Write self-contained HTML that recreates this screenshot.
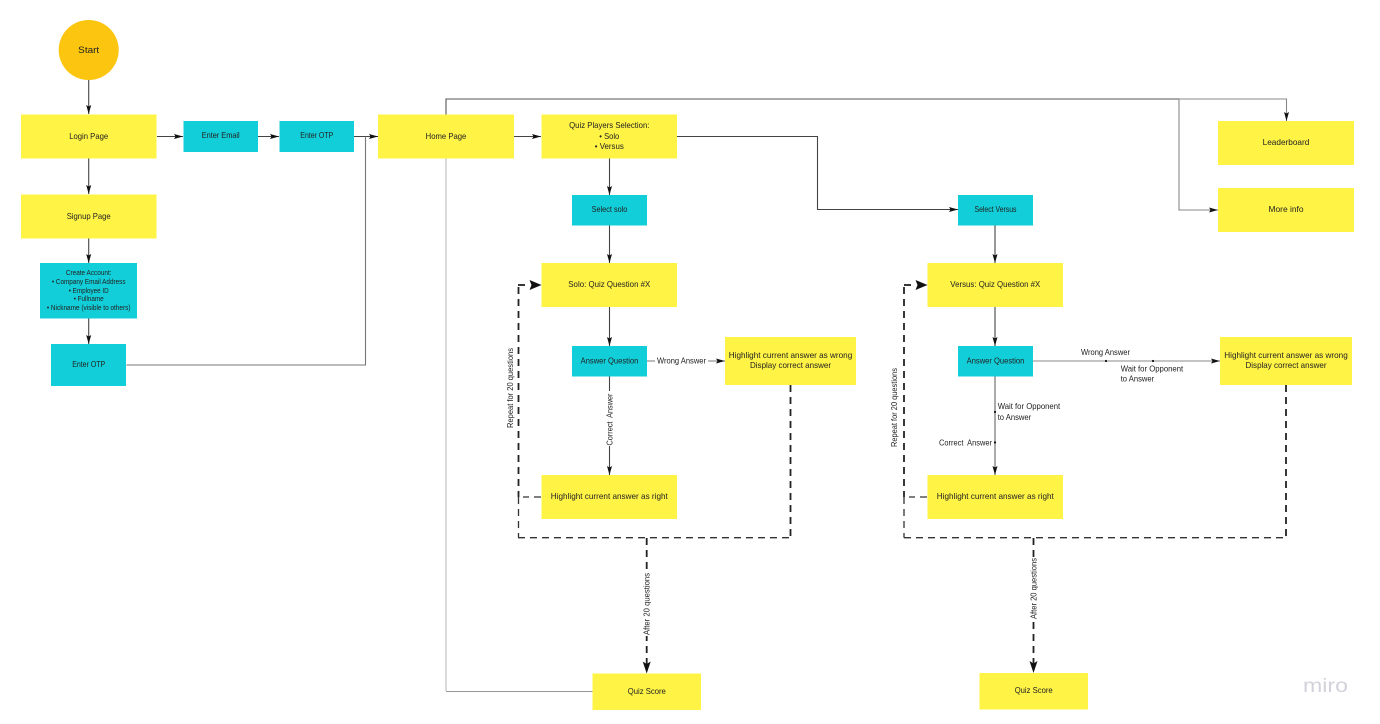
<!DOCTYPE html>
<html lang="en">
<head>
<meta charset="utf-8">
<title>Quiz flow diagram</title>
<style>
html,body{margin:0;padding:0;background:#fff;width:1380px;height:724px;overflow:hidden}
svg{display:block;filter:blur(0.3px)}
text{font-family:"Liberation Sans",sans-serif;font-size:8.5px;fill:#222;text-anchor:middle}
.y{fill:#fff345}
.c{fill:#12ced8}
.l{fill:none;stroke:#444;stroke-width:1.1}
.d{fill:none;stroke:#222;stroke-width:1.8;stroke-dasharray:7 5}
.t{fill:none;stroke:#333;stroke-width:1.3;stroke-dasharray:7 5}
.a{fill:#111}
</style>
</head>
<body>
<svg width="1380" height="724" viewBox="0 0 1380 724" xmlns="http://www.w3.org/2000/svg">
<rect width="1380" height="724" fill="#fff"/>

<!-- solid connectors -->
<path class="l" d="M88.700 80V114M88.700 158.500V194M88.700 238.500V263M88.700 318.500V344"/>
<path class="l" d="M157 136.500H183M258 136.500H279M354 136.500H378M514 136.500H541"/>
<path class="l" style="stroke:#777" d="M126.500 365H365.500V136.500"/>
<path class="l" style="stroke:#555" d="M446 114.500V99H1179"/>
<path class="l" style="stroke:#888" d="M1179 99H1286.500V121M1179 99V210H1218"/>
<path class="l" style="stroke:#bbb" d="M446 158.500V691"/>
<path class="l" style="stroke:#999" d="M446 691.500H592.500"/>
<path class="l" d="M677 136.500H817.500V209.500H958"/>
<path class="l" d="M609.500 158.500V195M609.500 225V263M609.500 307V346M609.500 376V475"/>
<path class="l" style="stroke:#777" d="M647 361H725"/>
<path class="l" d="M995 225V263M995 307V346"/>
<path class="l" style="stroke:#666" d="M995 376V475"/>
<path class="l" style="stroke:#888" d="M1033 361H1220"/>

<!-- dashed connectors: solo loop -->
<path class="t" d="M541 497H523"/>
<path class="d" d="M518.500 287V497"/>
<path class="t" d="M518.500 497V537.700"/>
<path class="d" d="M518 285H525"/>
<path class="t" d="M518 537.700H790.500"/>
<path class="d" d="M790.500 385V537.700"/>
<path class="d" d="M646.700 538V665"/>
<!-- dashed connectors: versus loop -->
<path class="t" d="M927 497H909"/>
<path class="d" d="M904 287V497"/>
<path class="t" d="M904 497V537.700"/>
<path class="d" d="M904 285H911"/>
<path class="t" d="M904 537.700H1286"/>
<path class="d" d="M1286 385V537.700"/>
<path class="d" d="M1033.500 538V665"/>

<!-- arrowheads -->
<g class="a">
<path d="M88.700 114l-2.500-9 2.500 1.500 2.500-1.500z"/>
<path d="M88.700 194l-2.500-9 2.500 1.500 2.500-1.500z"/>
<path d="M88.700 263l-2.500-9 2.500 1.500 2.500-1.500z"/>
<path d="M88.700 344l-2.500-9 2.500 1.500 2.500-1.500z"/>
<path d="M183 136.500l-9-2.500 1.500 2.500-1.500 2.500z"/>
<path d="M279 136.500l-9-2.500 1.500 2.500-1.500 2.500z"/>
<path d="M378 136.500l-9-2.500 1.500 2.500-1.500 2.500z"/>
<path d="M541 136.500l-9-2.500 1.500 2.500-1.500 2.500z"/>
<path d="M609.500 195l-2.500-9 2.500 1.500 2.500-1.500z"/>
<path d="M609.500 263l-2.500-9 2.500 1.500 2.500-1.500z"/>
<path d="M609.500 346l-2.500-9 2.500 1.500 2.500-1.500z"/>
<path d="M609.500 475l-2.500-9 2.500 1.500 2.500-1.500z"/>
<path d="M725 361l-9-2.500 1.500 2.500-1.500 2.500z"/>
<path d="M958 209.500l-9-2.500 1.500 2.500-1.500 2.500z"/>
<path d="M995 263l-2.500-9 2.500 1.500 2.500-1.500z"/>
<path d="M995 346l-2.500-9 2.500 1.500 2.500-1.500z"/>
<path d="M995 475l-2.500-9 2.500 1.500 2.500-1.500z"/>
<path d="M1220 361l-9-2.500 1.500 2.500-1.500 2.500z"/>
<path d="M1286.500 121l-2.500-9 2.500 1.500 2.500-1.500z"/>
<path d="M1218 210l-9-2.500 1.500 2.500-1.500 2.500z"/>
<path d="M541.500 285l-12-5 2 5-2 5z"/>
<path d="M927.500 285l-12-5 2 5-2 5z"/>
<path d="M646.700 673.500l-4-12 4 2.500 4-2.500z"/>
<path d="M1033.500 673l-4-12 4 2.500 4-2.500z"/>
<circle cx="1106" cy="361" r="1.100"/>
<circle cx="1153" cy="361" r="1.100"/>
<circle cx="995" cy="412" r="1.100"/>
<circle cx="995" cy="442.500" r="1.100"/>
</g>

<!-- nodes -->
<circle cx="88.700" cy="50" r="30" fill="#fcc50f"/>
<rect class="y" x="21" y="114.500" width="135.500" height="44"/>
<rect class="y" x="21" y="194.500" width="135.500" height="44"/>
<rect class="c" x="40" y="263" width="97" height="55.500"/>
<rect class="c" x="51" y="344" width="75" height="42"/>
<rect class="c" x="183.500" y="121" width="74.500" height="31"/>
<rect class="c" x="279.500" y="121" width="74.500" height="31"/>
<rect class="y" x="378" y="114.500" width="136" height="44"/>
<rect class="y" x="541.500" y="114.500" width="135.500" height="44"/>
<rect class="c" x="572" y="195" width="75" height="30.500"/>
<rect class="y" x="541.500" y="263" width="135.500" height="44"/>
<rect class="c" x="572" y="346" width="75" height="30.500"/>
<rect class="y" x="725" y="337" width="131" height="48"/>
<rect class="y" x="541.500" y="475" width="135.500" height="44"/>
<rect class="y" x="592.500" y="673.500" width="108.500" height="36.500"/>
<rect class="c" x="958" y="195" width="75" height="30.500"/>
<rect class="y" x="927.500" y="263" width="135.500" height="44"/>
<rect class="c" x="958" y="346" width="75" height="30.500"/>
<rect class="y" x="1220" y="337" width="132" height="48"/>
<rect class="y" x="927.500" y="475" width="135.500" height="44"/>
<rect class="y" x="979.500" y="673" width="108.500" height="36.500"/>
<rect class="y" x="1218" y="121" width="136" height="44"/>
<rect class="y" x="1218" y="188" width="136" height="44"/>

<!-- white label backgrounds -->
<rect x="655" y="354" width="53" height="13" fill="#fff"/>
<rect x="603" y="391" width="13" height="55" fill="#fff"/>
<rect x="640" y="572" width="13" height="64" fill="#fff"/>
<rect x="1027" y="557" width="13" height="63" fill="#fff"/>

<!-- node text -->
<text x="88.700" y="53" style="font-size:9px" textLength="21" lengthAdjust="spacingAndGlyphs">Start</text>
<text x="88.700" y="139" textLength="39" lengthAdjust="spacingAndGlyphs">Login Page</text>
<text x="88.700" y="219" textLength="44" lengthAdjust="spacingAndGlyphs">Signup Page</text>
<text style="font-size:7px" x="88.700" y="275" textLength="45.700" lengthAdjust="spacingAndGlyphs">Create Account:</text>
<text style="font-size:7px" x="88.700" y="284" textLength="73.700" lengthAdjust="spacingAndGlyphs">• Company Email Address</text>
<text style="font-size:7px" x="88.700" y="293" textLength="40" lengthAdjust="spacingAndGlyphs">• Employee ID</text>
<text style="font-size:7px" x="88.700" y="301" textLength="30" lengthAdjust="spacingAndGlyphs">• Fullname</text>
<text style="font-size:7px" x="88.700" y="310" textLength="83.700" lengthAdjust="spacingAndGlyphs">• Nickname (visible to others)</text>
<text x="88.700" y="367" textLength="33" lengthAdjust="spacingAndGlyphs">Enter OTP</text>
<text x="220.700" y="138" textLength="38" lengthAdjust="spacingAndGlyphs">Enter Email</text>
<text x="316.800" y="138" textLength="33" lengthAdjust="spacingAndGlyphs">Enter OTP</text>
<text x="446" y="139" textLength="40.700" lengthAdjust="spacingAndGlyphs">Home Page</text>
<text x="609.300" y="128" textLength="80.300" lengthAdjust="spacingAndGlyphs">Quiz Players Selection:</text>
<text x="609.300" y="139" textLength="20" lengthAdjust="spacingAndGlyphs">• Solo</text>
<text x="609.300" y="149" textLength="29" lengthAdjust="spacingAndGlyphs">• Versus</text>
<text x="609.500" y="212" textLength="35.700" lengthAdjust="spacingAndGlyphs">Select solo</text>
<text x="609.300" y="287" textLength="82" lengthAdjust="spacingAndGlyphs">Solo: Quiz Question #X</text>
<text x="609.500" y="363.500" textLength="57.700" lengthAdjust="spacingAndGlyphs">Answer Question</text>
<text x="790.500" y="358" textLength="123.500" lengthAdjust="spacingAndGlyphs">Highlight current answer as wrong</text>
<text x="790.500" y="368" textLength="81" lengthAdjust="spacingAndGlyphs">Display correct answer</text>
<text x="609.300" y="499" textLength="117" lengthAdjust="spacingAndGlyphs">Highlight current answer as right</text>
<text x="646.800" y="694" textLength="38" lengthAdjust="spacingAndGlyphs">Quiz Score</text>
<text x="995.500" y="212" textLength="42" lengthAdjust="spacingAndGlyphs">Select Versus</text>
<text x="995.300" y="287" textLength="90" lengthAdjust="spacingAndGlyphs">Versus: Quiz Question #X</text>
<text x="995.500" y="363.500" textLength="57.700" lengthAdjust="spacingAndGlyphs">Answer Question</text>
<text x="1286" y="358" textLength="123.500" lengthAdjust="spacingAndGlyphs">Highlight current answer as wrong</text>
<text x="1286" y="368" textLength="81" lengthAdjust="spacingAndGlyphs">Display correct answer</text>
<text x="995.300" y="499" textLength="117" lengthAdjust="spacingAndGlyphs">Highlight current answer as right</text>
<text x="1033.700" y="693" textLength="38" lengthAdjust="spacingAndGlyphs">Quiz Score</text>
<text x="1286" y="145" textLength="46.700" lengthAdjust="spacingAndGlyphs">Leaderboard</text>
<text x="1286" y="212" textLength="35" lengthAdjust="spacingAndGlyphs">More info</text>

<!-- connector labels -->
<text x="681.500" y="363.500" textLength="49" lengthAdjust="spacingAndGlyphs">Wrong Answer</text>
<text x="1105.500" y="355" textLength="49" lengthAdjust="spacingAndGlyphs">Wrong Answer</text>
<text style="text-anchor:start" x="1120.700" y="371.500" textLength="62.500" lengthAdjust="spacingAndGlyphs">Wait for Opponent</text>
<text style="text-anchor:start" x="1120.700" y="381.500" textLength="33.500" lengthAdjust="spacingAndGlyphs">to Answer</text>
<text style="text-anchor:start" x="997.700" y="409" textLength="62.500" lengthAdjust="spacingAndGlyphs">Wait for Opponent</text>
<text style="text-anchor:start" x="997.700" y="420" textLength="33.500" lengthAdjust="spacingAndGlyphs">to Answer</text>
<text style="text-anchor:start" x="939" y="445.500" textLength="53" lengthAdjust="spacingAndGlyphs" xml:space="preserve">Correct  Answer</text>
<text transform="translate(612.500 419.500) rotate(-90)" textLength="52" lengthAdjust="spacingAndGlyphs" xml:space="preserve">Correct  Answer</text>
<text transform="translate(513 388) rotate(-90)" textLength="80" lengthAdjust="spacingAndGlyphs">Repeat for 20 questions</text>
<text transform="translate(897 407.500) rotate(-90)" textLength="79" lengthAdjust="spacingAndGlyphs">Repeat for 20 questions</text>
<text transform="translate(649.700 604) rotate(-90)" textLength="62" lengthAdjust="spacingAndGlyphs">After 20 questions</text>
<text transform="translate(1036.500 588.500) rotate(-90)" textLength="61" lengthAdjust="spacingAndGlyphs">After 20 questions</text>

<text x="1325.500" y="692" style="font-size:19px;fill:#d2d2da" textLength="45" lengthAdjust="spacingAndGlyphs">miro</text>
</svg>
</body>
</html>
